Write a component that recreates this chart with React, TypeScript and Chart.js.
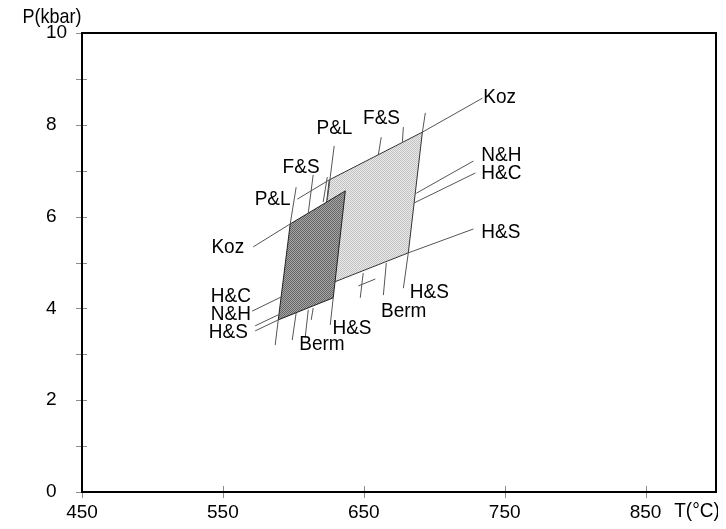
import { useEffect, useRef } from 'react';
import { Chart, registerables } from 'chart.js';

Chart.register(...registerables);

// Axis ticks
const xTickValues = [450, 550, 650, 750, 850];
const yTickValues = [0, 1, 2, 3, 4, 5, 6, 7, 8, 9, 10];
const yLabelValues = [0, 2, 4, 6, 8, 10];

// P-T regions [T(°C), P(kbar)]
const lightRegion: [number, number][] = [
  [625.5, 6.8], [691.6, 7.84], [681.6, 5.21], [616.3, 4.42],
];
const darkRegion: [number, number][] = [
  [597.8, 5.84], [636.9, 6.56], [628.3, 4.23], [589.3, 3.75],
];

// Calibration lines: [T1, P1, T2, P2]
const calibrationLines: [number, number, number, number][] = [
  [571.5, 5.34, 597.8, 5.84],
  [602.0, 6.64, 597.8, 5.84],
  [614.1, 6.91, 610.6, 6.08],
  [624.1, 6.86, 621.2, 6.32],
  [629.0, 7.54, 624.1, 6.36],
  [602.8, 6.38, 625.5, 6.8],
  [589.3, 3.75, 587.1, 3.2],
  [602.0, 3.9, 599.2, 3.31],
  [610.6, 3.97, 608.4, 3.36],
  [614.1, 4.01, 612.7, 3.75],
  [628.3, 4.23, 626.2, 3.64],
  [570.8, 3.94, 591.4, 4.25],
  [572.9, 3.62, 589.3, 3.86],
  [572.9, 3.51, 589.3, 3.75],
  [646.1, 4.49, 658.2, 4.64],
  [691.6, 7.84, 734.2, 8.58],
  [687.3, 6.51, 727.8, 7.21],
  [685.9, 6.3, 729.2, 6.95],
  [681.6, 5.21, 727.8, 5.73],
  [681.6, 5.21, 678.1, 4.44],
  [666.0, 4.99, 663.9, 4.29],
  [649.6, 4.77, 647.5, 4.23],
  [662.4, 7.73, 660.3, 7.34],
  [678.1, 7.95, 677.4, 7.63],
  [693.7, 8.26, 691.6, 7.84],
];

// Line labels: text, T, P (text centre)
const lineLabels: [string, number, number][] = [
  ['P&L', 629.2, 7.92],
  ['F&S', 662.6, 8.14],
  ['Koz', 746.5, 8.59],
  ['N&H', 747.7, 7.33],
  ['H&C', 747.7, 6.94],
  ['H&S', 747.3, 5.65],
  ['H&S', 696.5, 4.36],
  ['Berm', 678.3, 3.94],
  ['H&S', 641.6, 3.57],
  ['Berm', 620.3, 3.21],
  ['F&S', 605.5, 7.07],
  ['P&L', 585.3, 6.38],
  ['Koz', 553.5, 5.33],
  ['H&C', 555.7, 4.26],
  ['N&H', 555.7, 3.88],
  ['H&S', 553.9, 3.49],
];

const xTitle = 'T(°C)';
const yTitle = 'P(kbar)';

const FONT = '"Liberation Sans", Arial, Helvetica, sans-serif';

function makePattern(a: string, b: string): CanvasPattern | string {
  const c = document.createElement('canvas');
  c.width = 2;
  c.height = 2;
  const g = c.getContext('2d');
  if (!g) return a;
  g.fillStyle = b;
  g.fillRect(0, 0, 2, 2);
  g.fillStyle = a;
  g.fillRect(0, 0, 1, 1);
  g.fillRect(1, 1, 1, 1);
  const p = g.createPattern(c, 'repeat');
  return p || a;
}

const closed = (pts: [number, number][]) =>
  [...pts, pts[0]].map(([x, y]) => ({ x, y }));

const linePoints = () => {
  const out: { x: number; y: number | null }[] = [];
  for (const [t1, p1, t2, p2] of calibrationLines) {
    out.push({ x: t1, y: p1 }, { x: t2, y: p2 }, { x: t2, y: null });
  }
  return out;
};

function stretchedText(ctx: CanvasRenderingContext2D, text: string, cx: number, cy: number) {
  ctx.save();
  ctx.translate(cx, cy);
  ctx.scale(1, 1.1);
  ctx.fillText(text, 0, 0);
  ctx.restore();
}

const decorPlugin = {
  id: 'decor',
  afterDraw(chart: any) {
    const { ctx, chartArea: a, scales } = chart;
    const x = scales.x;
    const y = scales.y;
    ctx.save();
    // tick marks crossing axes
    ctx.strokeStyle = '#8c8c8c';
    ctx.lineWidth = 1;
    for (const v of xTickValues) {
      const px = Math.round(x.getPixelForValue(v)) + 0.5;
      ctx.beginPath();
      ctx.moveTo(px, a.bottom - 6);
      ctx.lineTo(px, a.bottom + 6);
      ctx.stroke();
    }
    for (const v of yTickValues) {
      const py = Math.round(y.getPixelForValue(v)) + 0.5;
      ctx.beginPath();
      ctx.moveTo(a.left - 6, py);
      ctx.lineTo(a.left + 5, py);
      ctx.stroke();
    }
    // frame
    ctx.strokeStyle = '#000';
    ctx.lineWidth = 2;
    ctx.strokeRect(a.left, a.top, a.right - a.left, a.bottom - a.top);
    // labels
    ctx.fillStyle = '#000';
    ctx.textAlign = 'center';
    ctx.textBaseline = 'middle';
    ctx.font = `19px ${FONT}`;
    for (const [text, t, p] of lineLabels) {
      stretchedText(ctx, text, x.getPixelForValue(t), y.getPixelForValue(p));
    }
    stretchedText(ctx, xTitle, a.right - 19, a.bottom + 19);
    ctx.font = `18px ${FONT}`;
    stretchedText(ctx, yTitle, a.left - 30, a.top - 15);
    ctx.restore();
  },
};

export default function App() {
  const ref = useRef<HTMLCanvasElement | null>(null);
  useEffect(() => {
    if (!ref.current) return;
    const chart = new Chart(ref.current, {
      type: 'scatter',
      data: {
        datasets: [
          {
            type: 'line',
            label: 'light',
            data: closed(lightRegion),
            backgroundColor: makePattern('#c2c2c2', '#eaeaea') as any,
            borderColor: '#333',
            borderWidth: 1,
            pointRadius: 0,
            fill: 'shape',
            tension: 0,
            order: 3,
          },
          {
            type: 'line',
            label: 'dark',
            data: closed(darkRegion),
            backgroundColor: makePattern('#666666', '#a6a6a6') as any,
            borderColor: '#222',
            borderWidth: 1,
            pointRadius: 0,
            fill: 'shape',
            tension: 0,
            order: 2,
          },
          {
            type: 'line',
            label: 'lines',
            data: linePoints() as any,
            borderColor: '#555',
            borderWidth: 1,
            pointRadius: 0,
            fill: false,
            spanGaps: false,
            showLine: true,
            tension: 0,
            order: 1,
          },
        ],
      },
      options: {
        animation: false,
        responsive: true,
        maintainAspectRatio: false,
        layout: { padding: { left: 38, top: 25, right: 10, bottom: 0 } },
        plugins: { legend: { display: false }, tooltip: { enabled: false } },
        scales: {
          x: {
            type: 'linear',
            min: 450,
            max: 900,
            grid: { display: false, drawTicks: false },
            border: { display: false },
            afterBuildTicks: (s: any) => {
              s.ticks = xTickValues.map((v) => ({ value: v }));
            },
            afterFit: (s: any) => {
              s.height = 29;
            },
            ticks: {
              padding: 9,
              maxRotation: 0,
              autoSkip: false,
              color: '#000',
              font: { family: FONT, size: 19 },
              callback: (v: any) => String(v),
            },
          },
          y: {
            type: 'linear',
            min: 0,
            max: 10,
            grid: { display: false, drawTicks: false },
            border: { display: false },
            afterBuildTicks: (s: any) => {
              s.ticks = yTickValues.map((v) => ({ value: v }));
            },
            afterFit: (s: any) => {
              s.width = 36;
            },
            ticks: {
              crossAlign: 'far',
              autoSkip: false,
              color: '#000',
              font: { family: FONT, size: 19 },
              callback: (v: any) => (yLabelValues.includes(Number(v)) ? String(v) : ''),
            },
          },
        },
      },
      plugins: [decorPlugin],
    });
    return () => chart.destroy();
  }, []);
  return (
    <div style={{ width: 718, height: 513, position: 'relative' }}>
      <canvas ref={ref} />
    </div>
  );
}
